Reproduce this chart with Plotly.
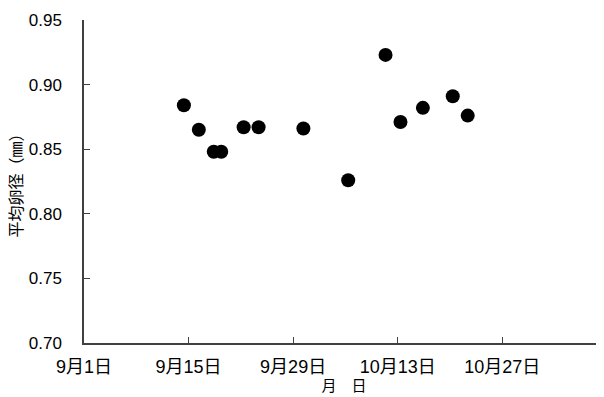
import plotly.graph_objects as go

dates = ["2023-09-14 09:00", "2023-09-16 09:00", "2023-09-18 09:00", "2023-09-19 09:00",
         "2023-09-22 09:00", "2023-09-24 09:00", "2023-09-30 09:00", "2023-10-06 09:00",
         "2023-10-11 09:00", "2023-10-13 09:00", "2023-10-16 09:00", "2023-10-20 09:00",
         "2023-10-22 09:00"]
egg_diameter = [0.884, 0.865, 0.848, 0.848, 0.867, 0.867, 0.866, 0.826,
                0.923, 0.871, 0.882, 0.891, 0.876]

tick_vals = ["2023-09-01", "2023-09-15", "2023-09-29", "2023-10-13", "2023-10-27"]
tick_text = ["9月1日", "9月15日", "9月29日", "10月13日", "10月27日"]
y_ticks = [0.70, 0.75, 0.80, 0.85, 0.90, 0.95]

font_family = "Liberation Sans, Arial, Noto Sans CJK JP, sans-serif"

fig = go.Figure(go.Scatter(
    x=dates, y=egg_diameter, mode="markers",
    marker=dict(color="black", size=14, line=dict(width=0)),
    showlegend=False,
))

# page body has an 8px default margin, so the figure is sized to fit the window
fig.update_layout(
    width=596, height=389,
    margin=dict(l=76, r=0, t=12, b=54),
    paper_bgcolor="white", plot_bgcolor="white",
    font=dict(family=font_family, color="black", size=16),
    xaxis=dict(
        range=["2023-09-01", "2023-11-09 15:00"],
        tickvals=tick_vals, ticktext=tick_text,
        tickfont=dict(size=18),
        ticks="inside", ticklen=6, tickcolor="#404040",
        showline=True, linecolor="#404040", linewidth=1.5,
        showgrid=False, zeroline=False,
        ticklabelstandoff=7,
        automargin=False,
        title=dict(text="月　日", font=dict(size=15), standoff=1),
    ),
    yaxis=dict(
        range=[0.70, 0.95],
        tickvals=y_ticks, tickformat=".2f",
        tickfont=dict(size=17),
        ticks="inside", ticklen=6, tickcolor="#404040",
        showline=True, linecolor="#404040", linewidth=1.5,
        showgrid=False, zeroline=False,
        ticklabelstandoff=17,
        automargin=False,
        title=dict(text="平均卵径（㎜）", font=dict(size=16), standoff=3),
    ),
)

fig.write_html("out.html")
